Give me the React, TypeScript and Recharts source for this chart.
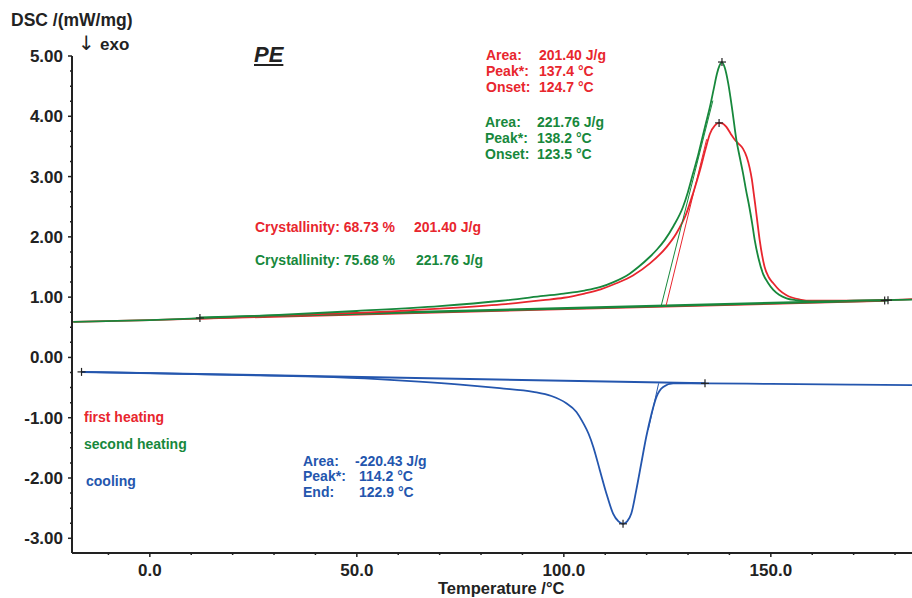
import React from "react";
import { ComposedChart, Line, XAxis, YAxis, Scatter } from "recharts";

// second heating (green)
const greenT = [-18.5, 0, 12, 30, 50, 70, 85, 95, 100, 105, 108.9, 112, 115.9, 118, 120.8, 122.5, 124.4, 126.5, 128.8, 130, 131.2, 132.3, 133.3, 134.3, 135.3, 136.2, 137.0, 137.6, 138.2, 138.9, 139.7, 140.7, 141.7, 142.5, 143.3, 144.0, 144.8, 145.5, 146.1, 147.0, 148.1, 149.3, 150.6, 152, 153.8, 156, 160, 170, 184.5];
const greenV = [0.59, 0.62, 0.65, 0.70, 0.77, 0.85, 0.94, 1.02, 1.06, 1.11, 1.17, 1.25, 1.39, 1.50, 1.67, 1.79, 1.95, 2.18, 2.50, 2.75, 3.05, 3.32, 3.60, 3.88, 4.16, 4.45, 4.71, 4.84, 4.90, 4.80, 4.55, 4.10, 3.60, 3.32, 3.05, 2.78, 2.50, 2.22, 1.95, 1.65, 1.39, 1.24, 1.12, 1.04, 0.98, 0.95, 0.93, 0.94, 0.96];

// first heating (red)
const redT = [-18.5, 0, 12, 30, 50, 70, 85, 95, 100, 105, 108.9, 112.7, 116.7, 120.8, 124.8, 127.2, 129.6, 131.2, 132.9, 134.2, 135.3, 136.5, 137.5, 138.4, 139.3, 140.3, 141.3, 142.3, 143.3, 144.2, 144.9, 145.4, 145.8, 146.2, 146.6, 147.3, 148.5, 149.5, 150.6, 152, 153.8, 157, 160, 170, 184.5];
const redV = [0.59, 0.62, 0.645, 0.69, 0.74, 0.81, 0.88, 0.95, 0.99, 1.06, 1.13, 1.23, 1.36, 1.56, 1.83, 2.06, 2.39, 2.72, 3.11, 3.45, 3.71, 3.85, 3.89, 3.88, 3.82, 3.71, 3.61, 3.54, 3.46, 3.32, 3.14, 2.96, 2.76, 2.55, 2.33, 1.95, 1.50, 1.33, 1.23, 1.12, 1.03, 0.96, 0.94, 0.94, 0.97];

// cooling (blue)
const blueT = [-16.5, 0, 20, 40, 55, 65, 75, 84.5, 92.6, 97, 100.6, 103, 104.7, 106, 107.1, 108.7, 110.3, 111.9, 113.2, 114.3, 115.3, 116.3, 117.5, 118.7, 119.9, 121.2, 122.4, 124, 126.4, 130, 134.1, 150, 170, 184.5];
const blueV = [-0.24, -0.26, -0.29, -0.32, -0.36, -0.40, -0.45, -0.51, -0.57, -0.64, -0.76, -0.90, -1.09, -1.27, -1.48, -1.87, -2.26, -2.59, -2.72, -2.76, -2.72, -2.59, -2.20, -1.76, -1.32, -0.93, -0.65, -0.49, -0.43, -0.43, -0.43, -0.44, -0.45, -0.46];

// baselines and tangent lines [t, v]
const redBase = [[12.3, 0.645], [177.5, 0.94]];
const greenBase = [[12, 0.66], [178.3, 0.95]];
const blueBase = [[-16.5, -0.24], [134.1, -0.43]];
const redOnset = [[124.7, 0.86], [134.5, 3.62]];
const greenOnset = [[123.5, 0.85], [136.0, 4.26]];
const blueEnd = [[122.9, -0.43], [120.4, -1.2]];

// "+" markers
const markT = [138.2, 137.5, 114.3, 12.1, 177.5, 178.3, -16.5, 134.1];
const markV = [4.9, 3.89, -2.76, 0.655, 0.945, 0.95, -0.24, -0.43];

const xTicks = [-10, 0, 10, 20, 30, 40, 50, 60, 70, 80, 90, 100, 110, 120, 130, 140, 150, 160, 170, 180];
const yTicks: number[] = [];
for (let i = -12; i <= 20; i++) yTicks.push(i / 4);

const RED = "#e8262e";
const GREEN = "#17883c";
const BLUE = "#2456ae";
const FONT = "'Liberation Sans', Arial, sans-serif";

const toPts = (ts: number[], vs: number[]) => ts.map((t, i) => ({ t, v: vs[i] }));
const pairs = (p: number[][]) => p.map(([t, v]) => ({ t, v }));

const XTick = (props: any) => {
  const { x, y, payload } = props;
  const major = payload.value % 50 === 0;
  return (
    <g>
      <line x1={x} x2={x} y1={y} y2={y + (major ? 4 : 2)} stroke="#222" strokeWidth={1.5} />
      {major && (
        <text x={x} y={y + 23} textAnchor="middle" fontFamily={FONT} fontWeight="bold" fontSize={17} fill="#222">
          {payload.value.toFixed(1)}
        </text>
      )}
    </g>
  );
};

const YTick = (props: any) => {
  const { x, y, payload } = props;
  const major = Number.isInteger(payload.value);
  return (
    <g>
      <line x1={x - (major ? 4 : 2)} x2={x} y1={y} y2={y} stroke="#222" strokeWidth={1.5} />
      {major && (
        <text x={x - 9} y={y + 6} textAnchor="end" fontFamily={FONT} fontWeight="bold" fontSize={17} fill="#222">
          {payload.value.toFixed(2)}
        </text>
      )}
    </g>
  );
};

const Cross = (props: any) => {
  const { cx, cy } = props;
  return (
    <g stroke="#222" strokeWidth={1.2}>
      <line x1={cx - 4} x2={cx + 4} y1={cy} y2={cy} />
      <line x1={cx} x2={cx} y1={cy - 4} y2={cy + 4} />
    </g>
  );
};

const txt = (left: number, top: number, color: string, size: number, content: React.ReactNode, extra: React.CSSProperties = {}) => (
  <div
    style={{
      position: "absolute",
      left,
      top,
      transform: "translateY(-50%)",
      color,
      fontSize: size,
      fontWeight: "bold",
      fontFamily: FONT,
      whiteSpace: "nowrap",
      lineHeight: 1,
      ...extra,
    }}
  >
    {content}
  </div>
);

const S = 14;

export default function App() {
  return (
    <div style={{ position: "absolute", left: 0, top: 0, width: 912, height: 598, background: "#fff" }}>
      <ComposedChart width={912} height={598} margin={{ top: 56, right: 0, left: 0, bottom: 0 }}>
        <XAxis
          type="number"
          dataKey="t"
          domain={[-18.8, 184.1]}
          ticks={xTicks}
          allowDataOverflow
          height={45}
          axisLine={{ stroke: "#222", strokeWidth: 2 }}
          tickLine={false}
          tickSize={0}
          tickMargin={0}
          tick={<XTick />}
          interval={0}
        />
        <YAxis
          type="number"
          dataKey="v"
          domain={[-3.244, 5.0]}
          ticks={yTicks}
          allowDataOverflow
          width={72}
          axisLine={{ stroke: "#222", strokeWidth: 2 }}
          tickLine={false}
          tickSize={0}
          tickMargin={0}
          tick={<YTick />}
          interval={0}
        />
        <Line data={pairs(redBase)} dataKey="v" stroke={RED} strokeWidth={2} dot={false} isAnimationActive={false} />
        <Line data={pairs(greenBase)} dataKey="v" stroke={GREEN} strokeWidth={2.5} dot={false} isAnimationActive={false} />
        <Line data={pairs(blueBase)} dataKey="v" stroke={BLUE} strokeWidth={2} dot={false} isAnimationActive={false} />
        <Line data={toPts(redT, redV)} dataKey="v" type="monotone" stroke={RED} strokeWidth={1.8} dot={false} isAnimationActive={false} />
        <Line data={toPts(greenT, greenV)} dataKey="v" type="monotone" stroke={GREEN} strokeWidth={1.8} dot={false} isAnimationActive={false} />
        <Line data={toPts(blueT, blueV)} dataKey="v" type="monotone" stroke={BLUE} strokeWidth={1.8} dot={false} isAnimationActive={false} />
        <Line data={pairs(redOnset)} dataKey="v" stroke={RED} strokeWidth={1} dot={false} isAnimationActive={false} />
        <Line data={pairs(greenOnset)} dataKey="v" stroke={GREEN} strokeWidth={1} dot={false} isAnimationActive={false} />
        <Line data={pairs(blueEnd)} dataKey="v" stroke={BLUE} strokeWidth={1} dot={false} isAnimationActive={false} />
        <Scatter data={toPts(markT, markV)} dataKey="v" shape={<Cross />} isAnimationActive={false} />
      </ComposedChart>

      {txt(11, 21, "#222", 17.5, "DSC /(mW/mg)")}
      {txt(78, 43, "#222", 20, "↓", { fontWeight: "normal", fontFamily: "'DejaVu Sans', sans-serif" })}
      {txt(100, 44, "#222", 17, "exo")}
      {txt(254, 55, "#222", 22, "PE", { fontStyle: "italic", textDecoration: "underline" })}

      {txt(486, 55, RED, S, "Area:")}
      {txt(486, 71, RED, S, "Peak*:")}
      {txt(486, 87, RED, S, "Onset:")}
      {txt(539, 55, RED, S, "201.40 J/g")}
      {txt(539, 71, RED, S, "137.4 °C")}
      {txt(539, 87, RED, S, "124.7 °C")}

      {txt(485, 122, GREEN, S, "Area:")}
      {txt(485, 138, GREEN, S, "Peak*:")}
      {txt(485, 154, GREEN, S, "Onset:")}
      {txt(537, 122, GREEN, S, "221.76 J/g")}
      {txt(537, 138, GREEN, S, "138.2 °C")}
      {txt(537, 154, GREEN, S, "123.5 °C")}

      {txt(255, 227, RED, S, "Crystallinity: 68.73 %")}
      {txt(414, 227, RED, S, "201.40 J/g")}
      {txt(255, 260, GREEN, S, "Crystallinity: 75.68 %")}
      {txt(416, 260, GREEN, S, "221.76 J/g")}

      {txt(84, 417, RED, S, "first heating")}
      {txt(84, 444, GREEN, S, "second heating")}
      {txt(86, 481, BLUE, S, "cooling")}

      {txt(303, 461, BLUE, S, "Area:")}
      {txt(303, 476, BLUE, S, "Peak*:")}
      {txt(303, 492, BLUE, S, "End:")}
      {txt(355, 461, BLUE, S, "-220.43 J/g")}
      {txt(359, 476, BLUE, S, "114.2 °C")}
      {txt(359, 492, BLUE, S, "122.9 °C")}

      {txt(438, 588, "#222", 16.5, "Temperature /°C")}
    </div>
  );
}
